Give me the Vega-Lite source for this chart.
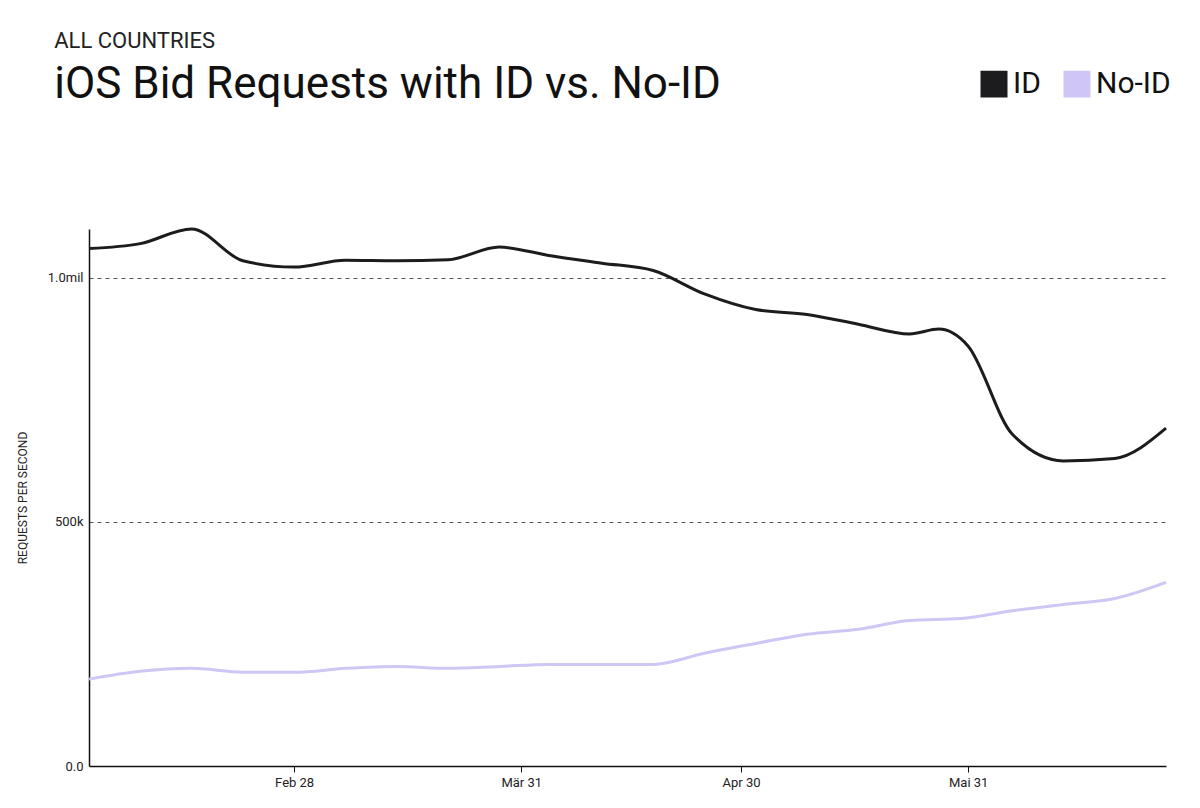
{
"$schema":"https://vega.github.io/schema/vega-lite/v6.json",
"width":1200,"height":808,
"autosize":{"type":"fit","contains":"padding"},
"padding":{"left":16,"top":30,"right":28,"bottom":19},
"background":"white",
"title":{"text":"ALL COUNTRIES","subtitle":"iOS Bid Requests with ID vs. No-ID","anchor":"start","frame":"bounds","font":"Roboto","fontSize":22,"fontWeight":"normal","color":"#222","subtitleFont":"Roboto","subtitleFontSize":44,"subtitleColor":"#111","subtitlePadding":10,"offset":115,"dx":38},
"config":{"view":{"stroke":null},"font":"Roboto"},
"data":{"values":[
{"d":"2021-01-31","s":"ID","v":1060000},{"d":"2021-02-07","s":"ID","v":1070000},{"d":"2021-02-14","s":"ID","v":1100000},{"d":"2021-02-21","s":"ID","v":1035000},{"d":"2021-02-28","s":"ID","v":1022000},{"d":"2021-03-07","s":"ID","v":1036000},{"d":"2021-03-14","s":"ID","v":1035000},{"d":"2021-03-21","s":"ID","v":1037000},{"d":"2021-03-28","s":"ID","v":1063000},{"d":"2021-04-04","s":"ID","v":1045000},{"d":"2021-04-11","s":"ID","v":1030000},{"d":"2021-04-18","s":"ID","v":1015000},{"d":"2021-04-25","s":"ID","v":967000},{"d":"2021-05-02","s":"ID","v":935000},{"d":"2021-05-09","s":"ID","v":925000},{"d":"2021-05-16","s":"ID","v":905000},{"d":"2021-05-23","s":"ID","v":885000},{"d":"2021-05-27","s":"ID","v":895000},{"d":"2021-05-31","s":"ID","v":860000},{"d":"2021-06-06","s":"ID","v":680000},{"d":"2021-06-13","s":"ID","v":625000},{"d":"2021-06-20","s":"ID","v":630000},{"d":"2021-06-27","s":"ID","v":692000},
{"d":"2021-01-31","s":"No-ID","v":178000},{"d":"2021-02-07","s":"No-ID","v":194000},{"d":"2021-02-14","s":"No-ID","v":200000},{"d":"2021-02-21","s":"No-ID","v":192000},{"d":"2021-02-28","s":"No-ID","v":192000},{"d":"2021-03-07","s":"No-ID","v":200000},{"d":"2021-03-14","s":"No-ID","v":204000},{"d":"2021-03-21","s":"No-ID","v":200000},{"d":"2021-03-28","s":"No-ID","v":204000},{"d":"2021-04-04","s":"No-ID","v":208000},{"d":"2021-04-11","s":"No-ID","v":208000},{"d":"2021-04-18","s":"No-ID","v":208000},{"d":"2021-04-25","s":"No-ID","v":231000},{"d":"2021-05-02","s":"No-ID","v":251000},{"d":"2021-05-09","s":"No-ID","v":270000},{"d":"2021-05-16","s":"No-ID","v":280000},{"d":"2021-05-23","s":"No-ID","v":298000},{"d":"2021-05-30","s":"No-ID","v":302000},{"d":"2021-06-06","s":"No-ID","v":318000},{"d":"2021-06-13","s":"No-ID","v":331000},{"d":"2021-06-20","s":"No-ID","v":343000},{"d":"2021-06-27","s":"No-ID","v":376000}
]},
"mark":{"type":"line","interpolate":"monotone","strokeWidth":3},
"encoding":{
"x":{"field":"d","type":"temporal","title":null,"scale":{"domain":["2021-01-31","2021-06-27"]},
 "axis":{"values":["2021-02-28","2021-03-31","2021-04-30","2021-05-31"],"labelExpr":"['Jan','Feb','Mär','Apr','Mai','Jun'][month(datum.value)] + ' ' + date(datum.value)","grid":false,"domainColor":"#111","domainWidth":1.5,"tickColor":"#111","tickSize":6,"labelFontSize":13,"labelColor":"#222","labelPadding":4}},
"y":{"field":"v","type":"quantitative","scale":{"domain":[0,1100000],"nice":false},"title":"REQUESTS PER SECOND",
 "axis":{"values":[0,500000,1000000],"labelExpr":"datum.value==0?'0.0':datum.value==500000?'500k':'1.0mil'","gridDash":[4,4],"gridColor":"#555","gridOpacity":{"expr":"datum.value==0?0:1"},"domainColor":"#111","domainWidth":1.5,"ticks":false,"labelFontSize":13,"labelColor":"#222","labelPadding":6,"titleFontSize":12,"titleFontWeight":"normal","titleColor":"#222","titlePadding":18}},
"color":{"field":"s","type":"nominal","scale":{"domain":["ID","No-ID"],"range":["#1c1c1e","#cfc6f5"]},
 "legend":{"title":null,"orient":"none","legendX":890,"legendY":-160,"direction":"horizontal","symbolType":"square","symbolSize":650,"symbolStrokeColor":"#111","symbolStrokeWidth":1.5,"labelFontSize":30,"labelColor":"#111","columnPadding":20,"symbolOpacity":1,
  "encode":{"symbols":{"update":{"fill":{"scale":"color","field":"value"},"stroke":{"value":"#111"}}}}}}
}
}
